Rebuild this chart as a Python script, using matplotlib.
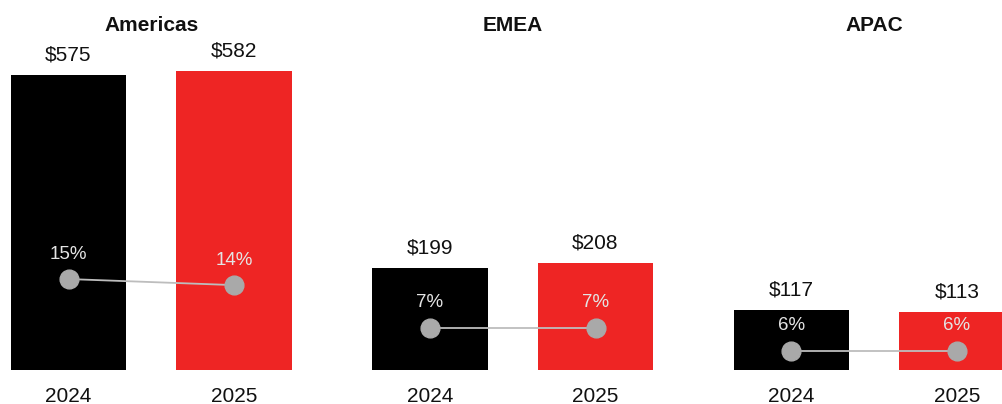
import matplotlib.pyplot as plt

plt.rcParams['font.family'] = ['Liberation Sans', 'DejaVu Sans']

# data
regions = ['Americas', 'EMEA', 'APAC']
years = ['2024', '2025']
revenue = {
    'Americas': [575, 582],
    'EMEA': [199, 208],
    'APAC': [117, 113],
}
margin = {
    'Americas': [15, 14],
    'EMEA': [7, 7],
    'APAC': [6, 6],
}

bar_colors = ['#000000', '#EE2524']
# per panel top limit of the margin axis
margin_top = {'Americas': 55, 'EMEA': 55, 'APAC': 105}

W, H = 1002, 404
fig = plt.figure(figsize=(W / 100, H / 100), dpi=100)

ax_w = 297.9
ax_h = 333.5
base = 34
lefts = [2.3, 363.8, 725.3]

for region, left in zip(regions, lefts):
    ax = fig.add_axes([left / W, base / H, ax_w / W, ax_h / H])
    x = list(range(len(years)))
    vals = revenue[region]
    ax.bar(x, vals, width=0.695, color=bar_colors, zorder=1)
    for xi, v in zip(x, vals):
        ax.annotate(f'${v}', (xi, v), xytext=(0, 14.4), textcoords='offset points',
                    ha='center', va='center', fontsize=15, color='#111111')
    ax.set_xlim(-0.4, 1.4)
    ax.set_ylim(0, 650)
    ax.set_xticks(x)
    ax.set_xticklabels(years, fontsize=15, color='#111111')
    ax.tick_params(axis='x', length=0, pad=12)
    ax.set_yticks([])
    for s in ax.spines.values():
        s.set_visible(False)
    ax.set_title(region, fontsize=15, fontweight='bold', pad=4, color='#111111')

    ax2 = ax.twinx()
    m = margin[region]
    ax2.plot(x, m, color='#BDBDBD', lw=1.3, zorder=2)
    ax2.plot(x, m, 'o', color='#A9A9A9', markersize=13.5, zorder=3)
    for xi, v in zip(x, m):
        ax2.annotate(f'{v}%', (xi, v), xytext=(0, 18), textcoords='offset points',
                     ha='center', va='center', fontsize=13.5, color='#E4E4E4')
    ax2.set_ylim(0, margin_top[region])
    ax2.set_yticks([])
    for s in ax2.spines.values():
        s.set_visible(False)

fig.savefig('out.png', dpi=100)
